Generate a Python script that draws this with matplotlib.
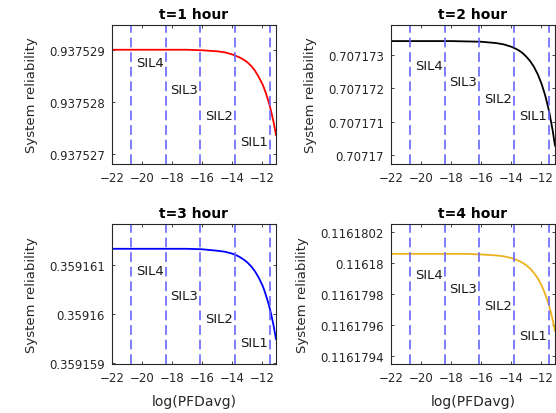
import numpy as np
import matplotlib
matplotlib.use("Agg")
import matplotlib.pyplot as plt
from matplotlib.ticker import FuncFormatter

plt.rcParams['font.family'] = ['DejaVu Sans']

# log(PFDavg) sample points
log_pfd = [-22, -20, -18, -17, -16, -15, -14.5, -14, -13.75, -13.5, -13.25, -13, -12.75, -12.5,
           -12.25, -12, -11.9, -11.75, -11.6, -11.5, -11.4, -11.25, -11.2, -11.1]

# system reliability for each mission time
rel_t1 = [0.93752900, 0.93752900, 0.93752900, 0.93752900, 0.93752899, 0.93752897, 0.93752895,
          0.93752891, 0.93752888, 0.93752885, 0.93752881, 0.93752876, 0.93752869, 0.93752860,
          0.93752848, 0.93752834, 0.93752827, 0.93752815, 0.93752801, 0.93752791, 0.93752779,
          0.93752760, 0.93752752, 0.93752737]
rel_t2 = [0.70717341, 0.70717341, 0.70717341, 0.70717340, 0.70717339, 0.70717335, 0.70717331,
          0.70717324, 0.70717319, 0.70717313, 0.70717305, 0.70717294, 0.70717281, 0.70717264,
          0.70717242, 0.70717214, 0.70717200, 0.70717178, 0.70717151, 0.70717132, 0.70717109,
          0.70717072, 0.70717057, 0.70717028]
rel_t3 = [0.35916133, 0.35916133, 0.35916133, 0.35916133, 0.35916132, 0.35916129, 0.35916127,
          0.35916123, 0.35916120, 0.35916116, 0.35916111, 0.35916105, 0.35916097, 0.35916087,
          0.35916074, 0.35916058, 0.35916050, 0.35916036, 0.35916021, 0.35916009, 0.35915996,
          0.35915974, 0.35915965, 0.35915948]
rel_t4 = [0.11618006, 0.11618006, 0.11618006, 0.11618006, 0.116180056, 0.11618005, 0.116180044,
          0.116180033, 0.116180025, 0.116180015, 0.116180002, 0.116179986, 0.116179965, 0.116179937,
          0.116179903, 0.116179858, 0.116179836, 0.1161798, 0.116179758, 0.116179728, 0.116179692,
          0.116179632, 0.116179609, 0.116179563]

titles = ["t=1 hour", "t=2 hour", "t=3 hour", "t=4 hour"]
series = [rel_t1, rel_t2, rel_t3, rel_t4]
colors = ["#ff0000", "#000000", "#0000ff", "#edb120"]

# SIL boundaries: ln(1e-9) ... ln(1e-5)
sil_bounds = [np.log(10.0**k) for k in (-9, -8, -7, -6, -5)]
sil_names = ["SIL4", "SIL3", "SIL2", "SIL1"]

xticks = [-22, -20, -18, -16, -14, -12]
yticks = [
    [0.937527, 0.937528, 0.937529],
    [0.70717, 0.707171, 0.707172, 0.707173],
    [0.359159, 0.35916, 0.359161],
    [0.1161794, 0.1161796, 0.1161798, 0.11618, 0.1161802],
]
ylims = [
    (0.93752681, 0.93752948),
    (0.70716973, 0.7071739),
    (0.35915897, 0.35916183),
    (0.11617935, 0.11618025),
]
# label heights as axes fraction
sil_ypos = [
    [0.73, 0.533, 0.347, 0.16],
    [0.706, 0.594, 0.472, 0.347],
    [0.67, 0.49, 0.328, 0.151],
    [0.639, 0.543, 0.419, 0.203],
]

fig = plt.figure(figsize=(5.56, 4.14), dpi=100)
positions = [
    [0.2014, 0.6014, 0.295, 0.3365],
    [0.7032, 0.6014, 0.295, 0.3365],
    [0.2014, 0.1184, 0.295, 0.3372],
    [0.7032, 0.1184, 0.295, 0.3372],
]

for i in range(4):
    ax = fig.add_axes(positions[i])
    ax.plot(log_pfd, series[i], color=colors[i], lw=1.3)
    for xb in sil_bounds:
        ax.axvline(xb, color=(0.4, 0.4, 1.0), lw=1.4, ls=(0, (5, 2.5)), alpha=0.85)
    trans = ax.get_xaxis_transform()
    for j in range(4):
        ax.text(sil_bounds[j] + 0.3, sil_ypos[i][j], sil_names[j], transform=trans,
                fontsize=9.5, va='center', ha='left', color='0.1')
    ax.set_xlim(-22, -11.1)
    ax.set_ylim(*ylims[i])
    ax.set_xticks(xticks)
    ax.set_yticks(yticks[i])
    ax.yaxis.set_major_formatter(FuncFormatter(lambda v, p: "%.7g" % v))
    ax.tick_params(direction='in', top=True, right=True, length=2.5, width=0.6,
                   labelsize=8.5, colors='0.15', pad=5)
    for s in ax.spines.values():
        s.set_color('0.15')
        s.set_linewidth(0.8)
    ax.set_title(titles[i], fontsize=10, fontweight='bold', pad=5)
    ax.set_ylabel("System reliability", fontsize=9.5, color='0.15', labelpad=8)
    if i >= 2:
        ax.set_xlabel("log(PFDavg)", fontsize=10, color='0.15', labelpad=7)

fig.savefig("out.png", dpi=100)
